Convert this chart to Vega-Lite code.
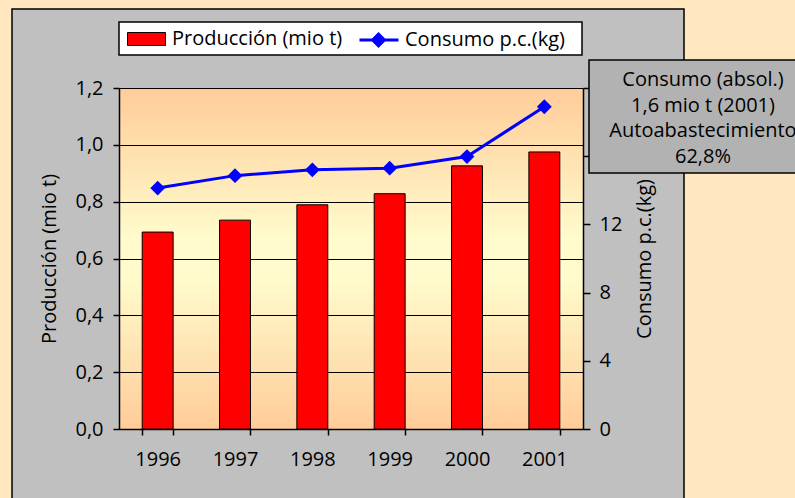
{
  "$schema": "https://vega.github.io/schema/vega-lite/v6.json",
  "width": 464,
  "height": 341,
  "autosize": "none",
  "padding": {"left": 119, "top": 88, "right": 212, "bottom": 69},
  "background": "#C0C0C0",
  "config": {
    "font": "Open Sans",
    "view": {
      "stroke": null,
      "fill": {"gradient": "linear", "x1": 0, "y1": 0, "x2": 0, "y2": 1,
        "stops": [
          {"offset": 0, "color": "#FFCC99"},
          {"offset": 0.44, "color": "#FFFBCC"},
          {"offset": 0.56, "color": "#FFFBCC"},
          {"offset": 1, "color": "#FFCC99"}
        ]}
    },
    "axis": {
      "labelFont": "Open Sans", "labelFontSize": 20, "labelColor": "#000000",
      "titleFont": "Open Sans", "titleFontSize": 20, "titleFontWeight": "normal", "titleColor": "#000000",
      "domainColor": "#000000", "domainWidth": 1.5, "tickColor": "#000000", "tickWidth": 1.5
    },
    "legend": {
      "orient": "none", "direction": "horizontal", "title": null, "padding": 0,
      "labelFont": "Open Sans", "labelFontSize": 20, "labelColor": "#000000", "labelOffset": 6, "labelLimit": 400,
      "symbolSize": 1444
    }
  },
  "data": {"values": [
    {"anio": "1996", "produccion": 0.693, "consumo": 14.13},
    {"anio": "1997", "produccion": 0.735, "consumo": 14.86},
    {"anio": "1998", "produccion": 0.789, "consumo": 15.20},
    {"anio": "1999", "produccion": 0.828, "consumo": 15.30},
    {"anio": "2000", "produccion": 0.926, "consumo": 15.98},
    {"anio": "2001", "produccion": 0.975, "consumo": 18.90}
  ]},
  "layer": [
    {
      "data": {"values": [{}]},
      "mark": {"type": "rect", "fill": "#FFE7C0", "strokeWidth": 0},
      "encoding": {"x": {"value": -519}, "x2": {"value": 881}, "y": {"value": -488}, "y2": {"value": -79}}
    },
    {
      "data": {"values": [{}]},
      "mark": {"type": "rect", "fill": "#FFE7C0", "strokeWidth": 0},
      "encoding": {"x": {"value": -519}, "x2": {"value": -107}, "y": {"value": -488}, "y2": {"value": 912}}
    },
    {
      "data": {"values": [{}]},
      "mark": {"type": "rect", "fill": "#FFE7C0", "strokeWidth": 0},
      "encoding": {"x": {"value": 565}, "x2": {"value": 881}, "y": {"value": -488}, "y2": {"value": 912}}
    },
    {
      "data": {"values": [{}]},
      "mark": {"type": "rect", "fillOpacity": 0, "stroke": "#000000", "strokeWidth": 1.5},
      "encoding": {"x": {"value": -107}, "x2": {"value": 565}, "y": {"value": -79}, "y2": {"value": 600}}
    },
    {
      "data": {"values": [{}]},
      "mark": {"type": "rect", "fill": "#FFFFFF", "stroke": "#000000", "strokeWidth": 1.5},
      "encoding": {"x": {"value": 0}, "x2": {"value": 463}, "y": {"value": -66}, "y2": {"value": -33}}
    },
    {
      "mark": {"type": "bar", "stroke": "#000000", "strokeWidth": 1},
      "encoding": {
        "x": {"field": "anio", "type": "ordinal",
          "scale": {"paddingInner": 0.6, "paddingOuter": 0.3},
          "axis": {"title": null, "labelAngle": 0, "tickBand": "extent", "tickSize": 6, "labelPadding": 14}},
        "y": {"field": "produccion", "type": "quantitative",
          "scale": {"domain": [0, 1.2], "nice": false},
          "axis": {"orient": "left", "title": "Producción (mio t)", "values": [0, 0.2, 0.4, 0.6, 0.8, 1.0, 1.2],
            "labelExpr": "replace(format(datum.value, '.1f'), '.', ',')",
            "grid": true, "gridColor": "#000000", "gridWidth": 1.2, "tickSize": 6, "labelPadding": 10, "titlePadding": 15}},
        "fill": {"datum": "Producción (mio t)", "type": "nominal",
          "scale": {"domain": ["Producción (mio t)"], "range": ["#FF0000"]},
          "legend": {
            "legendX": 8, "legendY": -68.5,
            "symbolType": "M-1,-0.34H1V0.34H-1Z",
            "symbolStrokeColor": "#000000", "symbolStrokeWidth": 1, "symbolFillColor": "#FF0000", "symbolOpacity": 1
          }}
      }
    },
    {
      "mark": {"type": "line", "strokeWidth": 3, "color": "#0000FF", "point": {"filled": true, "shape": "diamond", "size": 144, "color": "#0000FF"}},
      "encoding": {
        "x": {"field": "anio", "type": "ordinal"},
        "y": {"field": "consumo", "type": "quantitative",
          "scale": {"domain": [0, 20], "nice": false},
          "axis": {"orient": "right", "title": "Consumo p.c.(kg)", "titleAngle": 270, "values": [0, 4, 8, 12, 16, 20],
            "grid": false, "tickSize": 7, "labelPadding": 9, "titlePadding": 33}},
        "stroke": {"datum": "Consumo p.c.(kg)", "type": "nominal",
          "scale": {"domain": ["Consumo p.c.(kg)"], "range": ["#0000FF"]},
          "legend": {
            "legendX": 239, "legendY": -68.5,
            "symbolType": "M-1,0H1.05M0,-0.31L0.31,0L0,0.31L-0.31,0Z",
            "symbolStrokeColor": "#0000FF", "symbolStrokeWidth": 3, "symbolFillColor": "#0000FF", "symbolOpacity": 1
          }}
      }
    },
    {
      "data": {"values": [{}]},
      "mark": {"type": "rect", "fill": "#B2B2B2", "stroke": "#000000", "strokeWidth": 1.5},
      "encoding": {"x": {"value": 470}, "x2": {"value": 720}, "y": {"value": -28}, "y2": {"value": 85}}
    },
    {
      "data": {"values": [{"nota": ["Consumo (absol.)", "1,6 mio t (2001)", "Autoabastecimiento", "62,8%"]}]},
      "mark": {"type": "text", "font": "Open Sans", "fontSize": 20, "color": "#000000", "align": "center", "baseline": "middle", "lineHeight": 25.7},
      "encoding": {"text": {"field": "nota"}, "x": {"value": 584}, "y": {"value": -8}}
    }
  ],
  "resolve": {"scale": {"y": "independent"}}
}
